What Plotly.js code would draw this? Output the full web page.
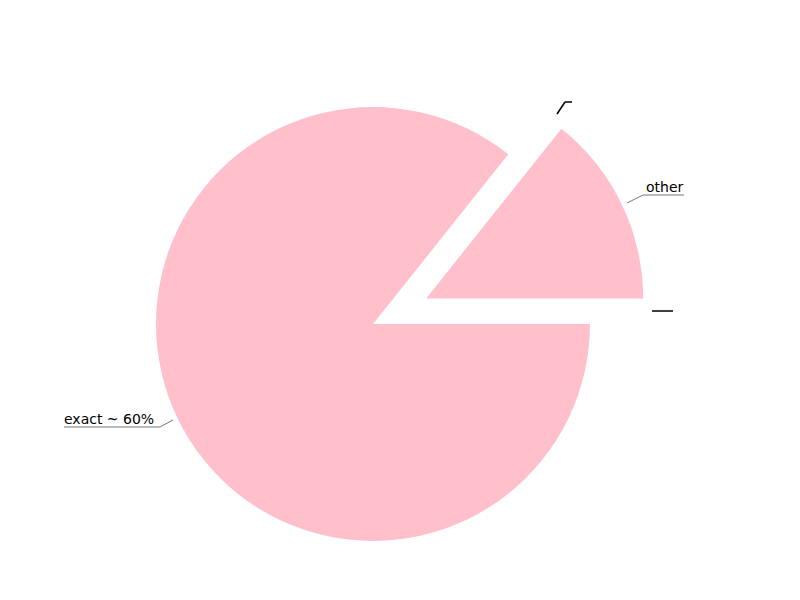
<!DOCTYPE html>
<html>
<head>
<meta charset="utf-8">
<script src="https://cdn.plot.ly/plotly-3.0.1.min.js"></script>
<style>html,body{margin:0;padding:0;background:#fff;}#chart{width:800px;height:600px;}</style>
</head>
<body>
<div id="chart"></div>
<script>
var labels = ['other', 'exact ~ 60%'];
var values = [1, 6];
var pulls = [0.272, 0];
var colors = ['#ffc0cb', '#ffc0cb'];

var W = 800, H = 600;
function px(x) { return x / W; }
function py(y) { return 1 - y / H; }
function seg(x0, y0, x1, y1, color, width) {
  return {type: 'line', xref: 'paper', yref: 'paper',
    x0: px(x0), y0: py(y0), x1: px(x1), y1: py(y1),
    line: {color: color, width: width}};
}

var total = values.reduce(function (a, b) { return a + b; }, 0);
// counterclockwise in Plotly ends the first slice at the rotation angle;
// shift so the first slice starts at 3 o'clock and runs counterclockwise
var rot = 90 - 360 * values[0] / total;

var trace = {
  type: 'pie',
  labels: labels,
  values: values,
  pull: pulls,
  sort: false,
  direction: 'counterclockwise',
  rotation: rot,
  marker: {colors: colors, line: {width: 0}},
  textinfo: 'none',
  hoverinfo: 'label+value',
  domain: {x: [0.1175, 0.815], y: [0, 0.92]}
};

var shapes = [
  seg(627, 203, 643, 195, '#666666', 0.9),
  seg(643, 195, 684, 195, '#666666', 0.9),
  seg(173, 420, 160, 427, '#666666', 0.9),
  seg(160, 427, 64, 427, '#666666', 0.9),
  seg(557, 114, 565, 102, '#000000', 1.5),
  seg(565, 102, 572, 102, '#000000', 1.5),
  seg(652, 311, 673, 311, '#000000', 1.5)
];

var annotations = [
  {text: labels[0], xref: 'paper', yref: 'paper', x: px(645), y: py(196),
   xanchor: 'left', yanchor: 'bottom', showarrow: false,
   font: {family: 'DejaVu Sans', size: 14, color: '#000'}, borderpad: 0},
  {text: labels[1], xref: 'paper', yref: 'paper', x: px(63), y: py(428),
   xanchor: 'left', yanchor: 'bottom', showarrow: false,
   font: {family: 'DejaVu Sans', size: 14, color: '#000'}, borderpad: 0}
];

var layout = {
  width: W, height: H,
  margin: {l: 0, r: 0, t: 0, b: 0},
  paper_bgcolor: '#ffffff',
  plot_bgcolor: '#ffffff',
  showlegend: false,
  shapes: shapes,
  annotations: annotations,
  font: {family: 'DejaVu Sans'}
};

Plotly.newPlot('chart', [trace], layout, {displayModeBar: false, staticPlot: true});
</script>
</body>
</html>
